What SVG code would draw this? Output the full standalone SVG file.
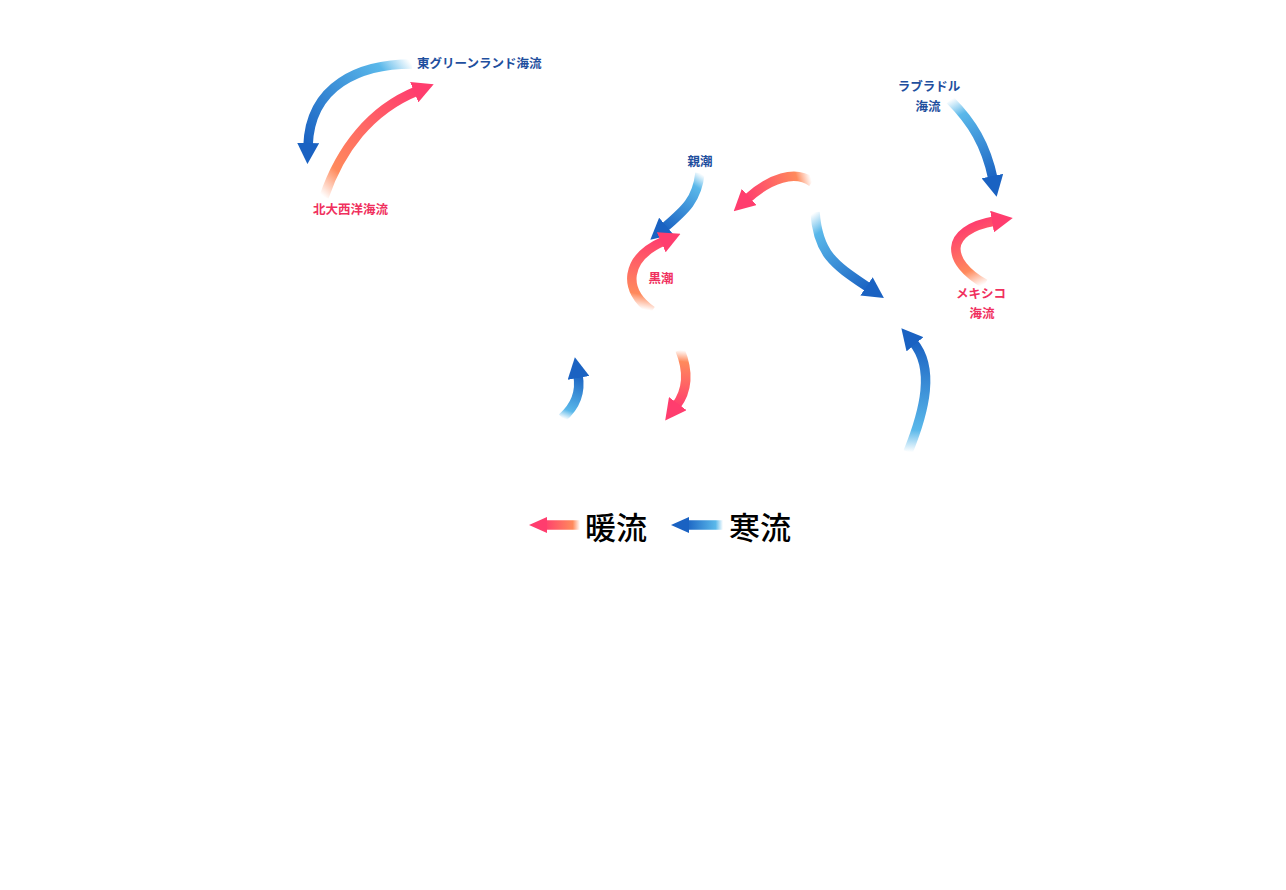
<svg xmlns="http://www.w3.org/2000/svg" width="1286" height="890" viewBox="0 0 1286 890">
<style>
.lbl{font-family:"Noto Sans CJK JP","Noto Sans",sans-serif;font-weight:bold;font-size:12.5px}
.cold{fill:#1f4f9e}
.warm{fill:#f0305e}
.leg{font-family:"Noto Sans CJK JP","Noto Sans",sans-serif;font-size:31px;font-weight:500;fill:#000}
.arr{fill:none;stroke-width:9.5}
</style>
<defs>
<marker id="wh" markerUnits="userSpaceOnUse" markerWidth="21" markerHeight="22" refX="3" refY="11" orient="auto"><path d="M0,0 L21,11 L0,22 Z" fill="#ff3d6e"/></marker>
<marker id="ch" markerUnits="userSpaceOnUse" markerWidth="21" markerHeight="22" refX="3" refY="11" orient="auto"><path d="M0,0 L21,11 L0,22 Z" fill="#1a62c2"/></marker>
<marker id="whs" markerUnits="userSpaceOnUse" markerWidth="18" markerHeight="16" refX="3" refY="8" orient="auto"><path d="M0,0 L18,8 L0,16 Z" fill="#ff3d6e"/></marker>
<marker id="chs" markerUnits="userSpaceOnUse" markerWidth="18" markerHeight="16" refX="3" refY="8" orient="auto"><path d="M0,0 L18,8 L0,16 Z" fill="#1a62c2"/></marker>
<linearGradient id="g1" gradientUnits="userSpaceOnUse" x1="412" y1="64" x2="308" y2="147"><stop offset="0" stop-color="#fff"/><stop offset="0.2" stop-color="#5ab8ea"/><stop offset="1" stop-color="#1a62c2"/></linearGradient>
<linearGradient id="g2" gradientUnits="userSpaceOnUse" x1="324" y1="197" x2="418" y2="91"><stop offset="0" stop-color="#fff"/><stop offset="0.2" stop-color="#ff8a5c"/><stop offset="1" stop-color="#ff3d6e"/></linearGradient>
<linearGradient id="g3" gradientUnits="userSpaceOnUse" x1="700" y1="173" x2="663" y2="229"><stop offset="0" stop-color="#fff"/><stop offset="0.2" stop-color="#5ab8ea"/><stop offset="1" stop-color="#1a62c2"/></linearGradient>
<linearGradient id="g4" gradientUnits="userSpaceOnUse" x1="652" y1="311" x2="665" y2="240"><stop offset="0" stop-color="#fff"/><stop offset="0.2" stop-color="#ff8a5c"/><stop offset="1" stop-color="#ff3d6e"/></linearGradient>
<linearGradient id="g5" gradientUnits="userSpaceOnUse" x1="812" y1="182" x2="746" y2="200"><stop offset="0" stop-color="#fff"/><stop offset="0.2" stop-color="#ff8a5c"/><stop offset="1" stop-color="#ff3d6e"/></linearGradient>
<linearGradient id="g6" gradientUnits="userSpaceOnUse" x1="815" y1="212" x2="870" y2="289"><stop offset="0" stop-color="#fff"/><stop offset="0.2" stop-color="#5ab8ea"/><stop offset="1" stop-color="#1a62c2"/></linearGradient>
<linearGradient id="g7" gradientUnits="userSpaceOnUse" x1="950" y1="100" x2="993" y2="180"><stop offset="0" stop-color="#fff"/><stop offset="0.2" stop-color="#5ab8ea"/><stop offset="1" stop-color="#1a62c2"/></linearGradient>
<linearGradient id="g8" gradientUnits="userSpaceOnUse" x1="985" y1="284" x2="960" y2="228"><stop offset="0" stop-color="#fff"/><stop offset="0.3" stop-color="#ff8a5c"/><stop offset="1" stop-color="#ff3d6e"/></linearGradient>
<linearGradient id="g9" gradientUnits="userSpaceOnUse" x1="562" y1="418" x2="578" y2="374"><stop offset="0" stop-color="#fff"/><stop offset="0.2" stop-color="#5ab8ea"/><stop offset="1" stop-color="#1a62c2"/></linearGradient>
<linearGradient id="g10" gradientUnits="userSpaceOnUse" x1="680" y1="350" x2="675" y2="407"><stop offset="0" stop-color="#fff"/><stop offset="0.2" stop-color="#ff8a5c"/><stop offset="1" stop-color="#ff3d6e"/></linearGradient>
<linearGradient id="g11" gradientUnits="userSpaceOnUse" x1="908" y1="452" x2="912" y2="341"><stop offset="0" stop-color="#fff"/><stop offset="0.2" stop-color="#5ab8ea"/><stop offset="1" stop-color="#1a62c2"/></linearGradient>
<linearGradient id="gl1" gradientUnits="userSpaceOnUse" x1="580" y1="525" x2="544" y2="525"><stop offset="0" stop-color="#fff"/><stop offset="0.2" stop-color="#ff8a5c"/><stop offset="1" stop-color="#ff3d6e"/></linearGradient>
<linearGradient id="gl2" gradientUnits="userSpaceOnUse" x1="723" y1="525" x2="686" y2="525"><stop offset="0" stop-color="#fff"/><stop offset="0.2" stop-color="#5ab8ea"/><stop offset="1" stop-color="#1a62c2"/></linearGradient>
</defs>
<g id="connectors">
<path class="arr" stroke="url(#g1)" marker-end="url(#ch)" d="M412,64 C360,64 310,85 308,146"/>
<path class="arr" stroke="url(#g2)" marker-end="url(#wh)" d="M324,197 C340,150 370,110 417,91"/>
<path class="arr" stroke="url(#g3)" marker-end="url(#ch)" d="M700,173 C697,200 685,210 664,228"/>
<path class="arr" stroke="url(#g4)" marker-end="url(#wh)" d="M652,311 C622,290 625,258 664,241"/>
<path class="arr" stroke="url(#g5)" marker-end="url(#wh)" d="M812,182 C795,170 770,178 747,199"/>
<path class="arr" stroke="url(#g6)" marker-end="url(#ch)" d="M815,212 C818,255 835,265 869,288"/>
<path class="arr" stroke="url(#g7)" marker-end="url(#ch)" d="M950,100 C972,122 986,145 993,179"/>
<path class="arr" stroke="url(#g8)" marker-end="url(#wh)" d="M985,284 C946,262 943,230 995,221"/>
<path class="arr" stroke="url(#g9)" marker-end="url(#ch)" d="M562,418 C576,406 581,392 578,375"/>
<path class="arr" stroke="url(#g10)" marker-end="url(#wh)" d="M680,350 C689,372 688,390 676,406"/>
<path class="arr" stroke="url(#g11)" marker-end="url(#ch)" d="M908,452 C925,410 935,368 913,342"/>
</g>
<g id="east-greenland"><text class="lbl cold" x="417" y="68">東グリーンランド海流</text></g>
<g id="north-atlantic"><text class="lbl warm" x="313" y="214">北大西洋海流</text></g>
<g id="oyashio"><text class="lbl cold" x="700" y="166" text-anchor="middle">親潮</text></g>
<g id="kuroshio"><text class="lbl warm" x="661" y="283" text-anchor="middle">黒潮</text></g>
<g id="labrador"><text class="lbl cold" x="929" y="91" text-anchor="middle">ラブラドル</text><text class="lbl cold" x="928" y="111" text-anchor="middle">海流</text></g>
<g id="mexico"><text class="lbl warm" x="981" y="298" text-anchor="middle">メキシコ</text><text class="lbl warm" x="982" y="318" text-anchor="middle">海流</text></g>
<g id="legend">
<path class="arr" stroke="url(#gl1)" stroke-width="8" marker-end="url(#whs)" d="M580,525 L544,525"/>
<text class="leg" x="585" y="539">暖流</text>
<path class="arr" stroke="url(#gl2)" stroke-width="8" marker-end="url(#chs)" d="M723,525 L686,525"/>
<text class="leg" x="729" y="539">寒流</text>
</g>
</svg>
